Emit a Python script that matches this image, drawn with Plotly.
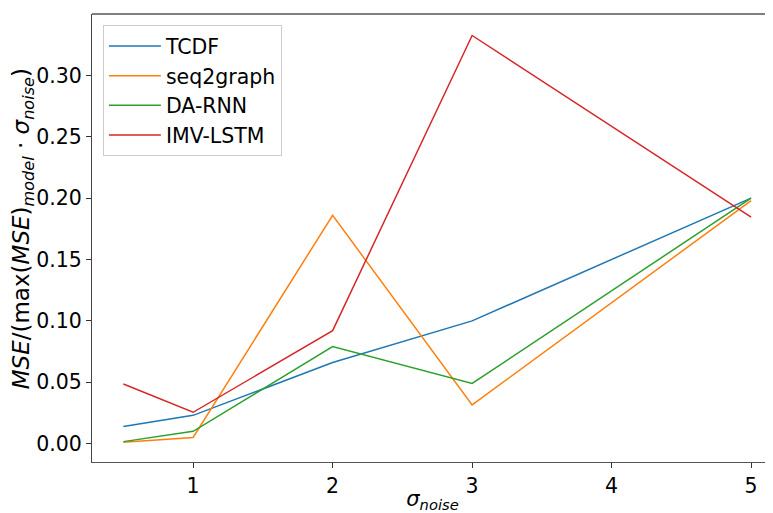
import plotly.graph_objects as go

sigma = [0.5, 1, 2, 3, 5]
tcdf = [0.014, 0.023, 0.066, 0.100, 0.200]
seq2graph = [0.001, 0.005, 0.186, 0.0315, 0.198]
da_rnn = [0.0016, 0.010, 0.079, 0.049, 0.200]
imv_lstm = [0.0485, 0.0255, 0.092, 0.3325, 0.1846]

series = [
    ("TCDF", tcdf, "#1f77b4"),
    ("seq2graph", seq2graph, "#ff7f0e"),
    ("DA-RNN", da_rnn, "#2ca02c"),
    ("IMV-LSTM", imv_lstm, "#d62728"),
]

y_title = "<i>MSE</i>/(max(<i>MSE</i>)<sub><i>model</i></sub> · <i>σ</i><sub><i>noise</i></sub>)"
x_title = "<i>σ</i><sub><i>noise</i></sub>"

fig = go.Figure()
for name, vals, col in series:
    fig.add_trace(go.Scatter(x=sigma, y=vals, mode="lines", name=name,
                             line=dict(color=col, width=1.5)))

font = "DejaVu Sans"
fig.update_layout(
    width=765, height=505,
    margin=dict(l=84, r=0, t=6, b=51),
    paper_bgcolor="white", plot_bgcolor="white",
    font=dict(family=font, size=20, color="black"),
    showlegend=True,
    legend=dict(x=0.016, y=0.975, xanchor="left", yanchor="top",
                bgcolor="rgba(255,255,255,0.8)", bordercolor="#cccccc", borderwidth=1,
                font=dict(size=20.5, family=font), tracegroupgap=0, itemwidth=52),
    xaxis=dict(range=[0.275, 5.157], tickvals=[1, 2, 3, 4, 5], automargin=False,
               showgrid=False, zeroline=False, showline=True, linecolor="#555555", linewidth=1.2,
               ticks="outside", ticklen=5, tickcolor="#333333",
               tickfont=dict(size=20.5, family=font),
               title=dict(text=x_title, font=dict(size=21, family=font), standoff=15)),
    yaxis=dict(range=[-0.015, 0.35], tickvals=[0, 0.05, 0.10, 0.15, 0.20, 0.25, 0.30], tickformat=".2f",
               automargin=False,
               showgrid=False, zeroline=False, showline=True, linecolor="#444444", linewidth=1.2,
               ticks="outside", ticklen=5, tickcolor="#333333",
               tickfont=dict(size=20.5, family=font)),
    annotations=[dict(text=y_title, textangle=-90, xref="paper", yref="paper",
                      x=-0.101, y=0.52, xanchor="center", yanchor="middle", showarrow=False,
                      font=dict(size=23, family=font, color="black"))],
    shapes=[dict(type="line", xref="paper", yref="paper", x0=0, x1=1, y0=1, y1=1,
                 line=dict(color="black", width=1.2))],
)

fig.write_html("out.html")
